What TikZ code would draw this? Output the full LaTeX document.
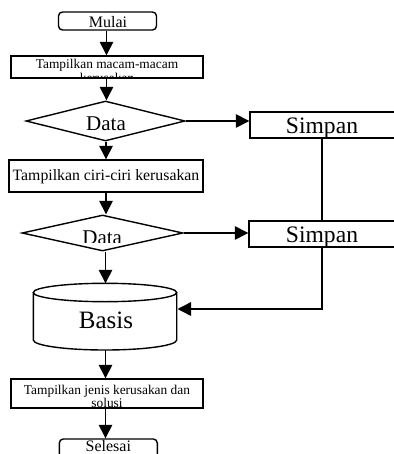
\documentclass[tikz,border=0pt]{standalone}
\usepackage{fontspec}
\setmainfont{Liberation Serif}
\usetikzlibrary{arrows.meta,shapes.geometric}
\begin{document}
\begin{tikzpicture}[x=1pt,y=-1pt,
  box/.style={draw,line width=1.4pt,inner sep=0pt},
  rbox/.style={box,rounded corners=4pt},
  dia/.style={draw,diamond,line width=1.4pt,inner sep=0pt,aspect=1},
  arr/.style={line width=1.4pt,-{Triangle[width=13.5pt,length=13.5pt]}},
  conn/.style={line width=1.4pt},
  txt/.style={inner sep=0pt,anchor=base}]
\useasboundingbox (0,0) rectangle (393,454);
% nodes
\node[rbox,minimum width=98pt,minimum height=18pt] (mulai) at (107.5,21) {};
\node[box,minimum width=192pt,minimum height=22pt] (macam) at (107,67) {};
\node[dia,minimum width=159pt,minimum height=40pt] (d1) at (105.5,121) {};
\node[box,minimum width=145pt,minimum height=26pt] (s1) at (322.5,125) {};
\node[box,minimum width=194pt,minimum height=32pt] (ciri) at (106,176) {};
\node[dia,minimum width=161pt,minimum height=36pt] (d2) at (102.5,233) {};
\node[box,minimum width=146pt,minimum height=26pt] (s2) at (322,234) {};
\node[box,minimum width=192pt,minimum height=29pt] (jenis) at (107,393.5) {};
\node[rbox,minimum width=98pt,minimum height=26pt] (selesai) at (108.3,452) {};
% cylinder Basis
\draw[line width=1.4pt] (105,292.5) ellipse[x radius=71.7, y radius=9.2];
\draw[line width=1.4pt] (33.3,292.5) -- (33.3,340) arc[start angle=180, end angle=0, x radius=71.7, y radius=10] -- (176.7,292.5);
\coordinate (btop) at (105.5,283.3);
\coordinate (bbot) at (105.5,350);
\coordinate (bin) at (177.5,309);
% texts
\node[txt,font=\fontsize{16}{18}\selectfont] (mulaitxt) at (108,28) {Mulai};
\node[txt,font=\fontsize{13.4}{15}\selectfont] (macam1) at (107,69) {Tampilkan macam-macam};
\begin{scope}
  \clip (macam.north west) rectangle (macam.south east);
  \node[txt,font=\fontsize{13.4}{15}\selectfont] (macam2) at (107,83) {kerusakan};
\end{scope}
\node[txt,font=\fontsize{21}{24}\selectfont] (d1txt) at (106,130.7) {Data};
\node[txt,font=\fontsize{23.6}{26}\selectfont] (s1txt) at (322,133.5) {Simpan};
\node[txt,font=\fontsize{15.8}{18}\selectfont] (ciritxt) at (106,180) {Tampilkan ciri-ciri kerusakan};
\begin{scope}
  \clip (60,225) rectangle (150,242.3);
  \node[txt,font=\fontsize{21}{24}\selectfont] (d2txt) at (102.2,244.5) {Data};
\end{scope}
\node[txt,font=\fontsize{23.6}{26}\selectfont] (s2txt) at (322,242.5) {Simpan};
\node[txt,font=\fontsize{25}{28}\selectfont] (basistxt) at (106,328) {Basis};
\node[txt,font=\fontsize{13.4}{15}\selectfont] (jenis1) at (107,394) {Tampilkan jenis kerusakan dan};
\node[txt,font=\fontsize{13.4}{15}\selectfont] (jenis2) at (107,407.3) {solusi};
\node[txt,font=\fontsize{16}{18}\selectfont] (selesaitxt) at (108.3,451) {Selesai};
% connectors
\draw[arr] (mulai.south -| 106.5,0) coordinate (a0) -- (macam.north -| a0);
\draw[arr] (macam.south -| 106.5,0) coordinate (a1) -- (d1.north -| a1);
\draw[arr] (ciri.north |- d1.south) -- (ciri.north);
\draw[arr] (ciri.south) -- (ciri.south |- d2.north);
\draw[arr] (btop |- d2.south) -- (btop);
\draw[arr] (bbot) -- (bbot |- jenis.north);
\draw[arr] (jenis.south -| bbot) -- (selesai.north -| bbot);
\draw[arr] (d1.east) -- (d1.east -| s1.west);
\draw[arr] (d2.east) -- (d2.east -| s2.west);
\draw[conn] (s2.north |- s1.south) -- (s2.north);
\draw[arr] (s2.south) |- (bin);
\end{tikzpicture}
\end{document}
